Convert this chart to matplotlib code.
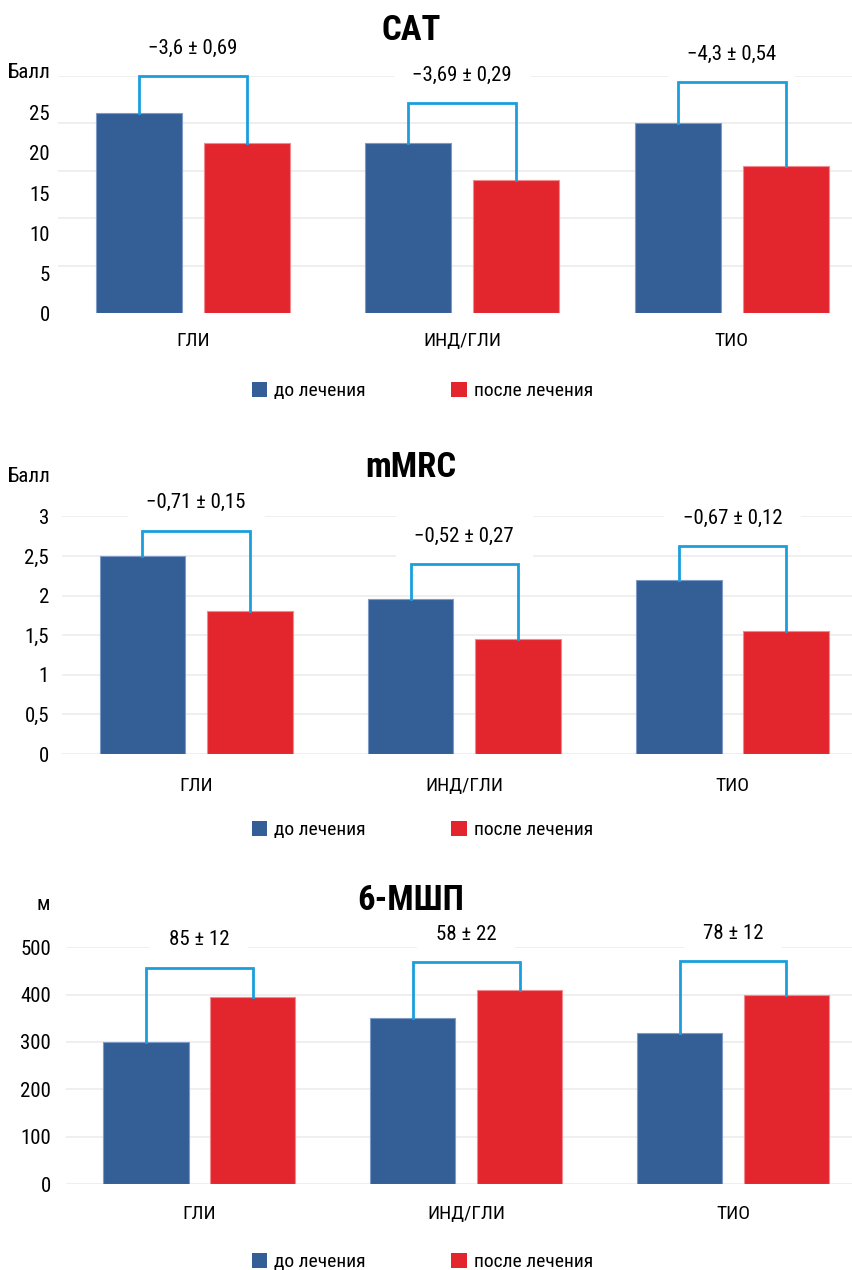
import numpy as np
import matplotlib.pyplot as plt
from matplotlib.patches import Patch
from matplotlib.ticker import FuncFormatter

plt.rcParams['font.family'] = ['Roboto Condensed', 'PT Sans Narrow', 'DejaVu Sans']

# Groups and treatment results
categories = ['ГЛИ', 'ИНД/ГЛИ', 'ТИО']
legend_labels = ['до лечения', 'после лечения']

cat_before = [25.0, 21.3, 23.7]
cat_after = [21.3, 16.6, 18.4]
cat_delta = ['−3,6 ± 0,69', '−3,69 ± 0,29', '−4,3 ± 0,54']

mmrc_before = [2.5, 1.95, 2.2]
mmrc_after = [1.8, 1.45, 1.55]
mmrc_delta = ['−0,71 ± 0,15', '−0,52 ± 0,27', '−0,67 ± 0,12']

smwt_before = [300, 350, 320]
smwt_after = [395, 410, 400]
smwt_delta = ['85 ± 12', '58 ± 22', '78 ± 12']

# bracket heights (data units) for the change annotations
cat_bracket_y = [29.6, 26.2, 28.8]
mmrc_bracket_y = [2.82, 2.40, 2.62]
smwt_bracket_y = [457, 469, 471]

BLUE = '#335e96'
RED = '#e3262e'
BRACKET = '#1a9fdc'
GRID = '#eeeeee'

W, H = 853, 1270
fig = plt.figure(figsize=(W / 100, H / 100), dpi=100)


def fx(px):
    return px / W


def fy(px):
    return 1 - px / H


def comma(v, pos):
    return f'{v:g}'.replace('.', ',')


panels = [
    dict(title='CAT', before=cat_before, after=cat_after, delta=cat_delta,
         bracket=cat_bracket_y, unit='Балл', left=58, bottom=313.3, top=76,
         ylim=29.6, ticks=np.arange(0, 26, 5), ypad=5.8, xpad=13.7,
         title_y=30, unit_y=72, legend_y=391),
    dict(title='mMRC', before=mmrc_before, after=mmrc_after, delta=mmrc_delta,
         bracket=mmrc_bracket_y, unit='Балл', left=62, bottom=754, top=516.3,
         ylim=3, ticks=np.arange(0, 3.01, 0.5), ypad=9.4, xpad=16.5,
         title_y=467, unit_y=476, legend_y=830),
    dict(title='6-МШП', before=smwt_before, after=smwt_after, delta=smwt_delta,
         bracket=smwt_bracket_y, unit='м', left=66, bottom=1184, top=947.3,
         ylim=500, ticks=np.arange(0, 501, 100), ypad=10.8, xpad=15,
         title_y=900, unit_y=905, legend_y=1262),
]

x = np.arange(len(categories))
off = 0.2
width = 0.32

for p in panels:
    ax = fig.add_axes([fx(p['left']), fy(p['bottom']),
                       fx(W - p['left']), (p['bottom'] - p['top']) / H])
    ax.bar(x - off, p['before'], width, color=BLUE, edgecolor='#7d9bc6',
           linewidth=0.8, zorder=2)
    ax.bar(x + off, p['after'], width, color=RED, edgecolor='#f08a8e',
           linewidth=0.8, zorder=2)

    # brackets joining the before/after bars, with the change on top
    for i in range(len(categories)):
        yb = p['bracket'][i]
        ax.plot([x[i] - off, x[i] - off, x[i] + off, x[i] + off],
                [p['before'][i], yb, yb, p['after'][i]],
                color=BRACKET, lw=2, solid_joinstyle='miter', zorder=5,
                clip_on=False)
        ax.annotate(p['delta'][i], xy=(x[i], yb), xytext=(0, 20),
                    textcoords='offset points', ha='center', va='center',
                    fontsize=15, zorder=4, annotation_clip=False,
                    bbox=dict(boxstyle='square,pad=0.9', facecolor='white',
                              edgecolor='none'))

    ax.set_xlim(-0.5, 2.45)
    ax.set_ylim(0, p['ylim'])
    ax.set_xticks(x)
    ax.set_xticklabels(categories, fontsize=14)
    ax.set_yticks(p['ticks'])
    ax.yaxis.set_major_formatter(FuncFormatter(comma))
    ax.tick_params(axis='y', length=0, pad=p['ypad'], labelsize=15)
    ax.tick_params(axis='x', length=0, pad=p['xpad'])

    # grid lines (CAT grid is spaced independently of its labels)
    if p['title'] == 'CAT':
        ax.set_yticks(np.linspace(0, p['ylim'], 6), minor=True)
        ax.tick_params(axis='y', which='minor', length=0)
        ax.grid(axis='y', which='minor', color=GRID, lw=1.3, zorder=0)
    else:
        ax.grid(axis='y', which='major', color=GRID, lw=1.3, zorder=0)
    ax.set_axisbelow(True)
    for s in ax.spines.values():
        s.set_visible(False)

    fig.text(fx(411), fy(p['title_y']), p['title'], ha='center', va='center',
             fontsize=25, fontweight='bold')
    fig.text(fx(50), fy(p['unit_y']), p['unit'], ha='right', va='center',
             fontsize=15)

    handles = [Patch(facecolor=BLUE, edgecolor='none'),
               Patch(facecolor=RED, edgecolor='none')]
    fig.legend(handles, legend_labels, loc='center',
               bbox_to_anchor=(fx(422.5), fy(p['legend_y'])), ncol=2,
               frameon=False, fontsize=14, handlelength=0.8,
               handleheight=0.8, handletextpad=0.35, columnspacing=4.4)

fig.savefig('out.png', dpi=100)
